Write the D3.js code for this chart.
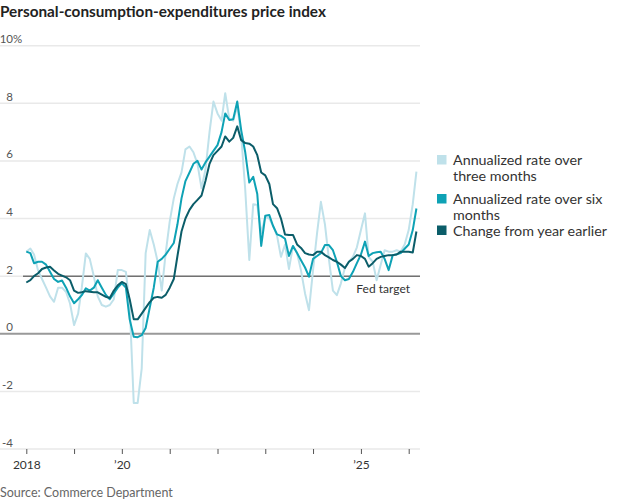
<!DOCTYPE html>
<html>
<head>
<meta charset="utf-8">
<script src="https://cdn.jsdelivr.net/npm/d3@7"></script>
<style>
  body { margin: 0; background: #fff; }
</style>
</head>
<body>
<div id="chart"></div>
<script>
const width = 620, height = 500;

// monthly, Jan 2018 .. Mar 2026
const months = d3.timeMonth.range(new Date(2018, 0, 1), new Date(2026, 3, 1));

const threeMonth = [
  2.85, 2.96, 2.75, 2.2, 1.9, 1.6, 1.3, 1.11, 1.6, 1.6, 1.45, 1.05,
  0.3, 0.7, 1.6, 2.79, 2.6, 2.0, 1.3, 1.0, 0.94, 1.0, 1.2, 2.21,
  2.21, 2.15, 1.0, -2.4, -2.4, -1.2, 2.8, 3.6, 3.1, 2.5, 1.5, 2.8,
  3.9, 4.7, 5.2, 5.6, 6.4, 6.5, 6.3, 5.9, 5.05, 5.7, 7.0, 8.06,
  7.65, 7.4, 8.35, 7.45, 7.4, 7.9, 6.9, 5.0, 2.56, 4.5, 4.47, 3.5,
  4.05, 4.0, 3.75, 3.4, 2.67, 3.1, 2.25, 3.05, 2.8, 2.2, 1.4, 0.82,
  2.21, 3.5, 4.58, 3.8, 2.6, 1.5, 1.34, 1.75, 2.3, 2.5, 2.67, 3.0,
  3.6, 4.18, 2.67, 2.5, 1.86, 2.4, 2.9, 2.85, 2.85, 2.9, 2.85, 3.1,
  3.6, 4.5, 5.63
];

const sixMonth = [
  2.85, 2.8, 2.45, 2.5, 2.5, 2.4, 2.15, 1.9, 1.8, 1.85, 1.6, 1.3,
  1.06, 1.2, 1.34, 1.58, 1.5, 1.6, 1.86, 1.6, 1.35, 1.2, 1.4, 1.6,
  1.75, 1.6, 0.5, -0.1, -0.12, -0.05, 0.2, 0.9, 1.6, 2.5, 2.6, 2.75,
  2.95, 3.15, 3.8, 4.7, 5.3, 5.6, 5.9, 6.0, 5.7, 5.95, 6.15, 6.35,
  6.55, 7.0, 7.65, 7.42, 7.45, 8.06, 7.07, 6.3, 5.25, 5.45, 4.85, 3.05,
  4.1, 4.12, 3.75, 3.45, 3.4, 3.3, 2.7, 3.05, 2.8, 2.55, 2.3, 1.98,
  2.6, 2.7, 2.8, 3.08, 3.08, 2.9, 2.5, 2.0, 1.86, 1.9, 2.15, 2.45,
  2.75, 3.2, 2.7, 2.8, 2.83, 2.85, 2.6, 2.21, 2.73, 2.76, 2.8, 2.95,
  3.1, 3.6, 4.35
];

const yearEarlier = [
  1.78, 1.86, 2.0, 2.1, 2.25, 2.3, 2.33, 2.2, 2.08, 2.02, 1.96, 1.86,
  1.5, 1.42, 1.44, 1.48, 1.46, 1.44, 1.44, 1.36, 1.28, 1.24, 1.5, 1.68,
  1.8, 1.72, 1.2, 0.5, 0.5, 0.7, 0.9, 1.1, 1.25, 1.28, 1.25, 1.35,
  1.6, 1.9, 2.7, 3.55, 4.0, 4.3, 4.5, 4.65, 4.8, 5.3, 5.9, 6.2,
  6.35, 6.5, 6.85, 6.67, 6.8, 7.2, 6.72, 6.62, 6.6, 6.5, 6.2, 5.6,
  5.5, 5.2, 4.5, 4.36, 4.0, 3.45, 3.43, 3.43, 3.1, 2.98, 2.8, 2.75,
  2.73, 2.85, 2.85, 2.73, 2.65, 2.56, 2.5, 2.4, 2.28, 2.5, 2.6, 2.73,
  2.7, 2.6, 2.33, 2.45, 2.6, 2.67, 2.7, 2.73, 2.73, 2.75, 2.85, 2.85,
  2.85, 2.82, 3.55
];

const yTicks = [-4, -2, 0, 2, 4, 6, 8, 10];
const xTickYears = [2018, 2019, 2020, 2021, 2022, 2023, 2024, 2025, 2026];
const xTickLabels = { 2018: "2018", 2020: "\u201920", 2025: "\u201925" };
const fedTarget = 2;

const seriesNames = [
  ["Annualized rate over", "three months"],
  ["Annualized rate over six", "months"],
  ["Change from year earlier"]
];
const colors = ["#bfe1ea", "#0ea2b5", "#0b5d69"];

const font = "Lato, 'Noto Sans', sans-serif";

const svg = d3.select("#chart")
  .append("svg")
  .attr("width", width)
  .attr("height", height)
  .style("font-family", font);

const x = d3.scaleTime()
  .domain([new Date(2018, 0, 1), new Date(2026, 0, 1)])
  .range([26.3, 408.7]);

const y = d3.scaleLinear()
  .domain([-4, 10])
  .range([449, 45.7]);

const plotRight = 420;

// title
svg.append("text")
  .attr("x", 0)
  .attr("y", 17)
  .style("font-size", "15.3px")
  .style("font-weight", "bold")
  .attr("fill", "#222")
  .text("Personal-consumption-expenditures price index");

// gridlines
svg.append("g")
  .selectAll("line")
  .data(yTicks.filter(d => d !== 0))
  .enter()
  .append("line")
  .attr("x1", 0)
  .attr("x2", plotRight)
  .attr("y1", d => y(d))
  .attr("y2", d => y(d))
  .attr("stroke", "#e9e9e9")
  .attr("stroke-width", 1.5);

// y labels
svg.append("g")
  .selectAll("text")
  .data(yTicks)
  .enter()
  .append("text")
  .attr("x", 13)
  .attr("y", d => y(d) - 2.5)
  .attr("text-anchor", "end")
  .style("font-size", "11.5px")
  .attr("fill", "#555")
  .text(d => d);

svg.append("text")
  .attr("x", 13)
  .attr("y", y(10) - 2.5)
  .style("font-size", "11.5px")
  .attr("fill", "#555")
  .text("%");

// zero line
svg.append("line")
  .attr("x1", 0)
  .attr("x2", plotRight)
  .attr("y1", y(0))
  .attr("y2", y(0))
  .attr("stroke", "#999")
  .attr("stroke-width", 2);

// fed target
svg.append("line")
  .attr("x1", 23)
  .attr("x2", plotRight)
  .attr("y1", y(fedTarget))
  .attr("y2", y(fedTarget))
  .attr("stroke", "#333")
  .attr("stroke-width", 1);

svg.append("text")
  .attr("x", 410)
  .attr("y", y(fedTarget) + 17)
  .attr("text-anchor", "end")
  .style("font-size", "12px")
  .attr("fill", "#333")
  .text("Fed target");

// x axis
const xAxis = svg.append("g")
  .attr("transform", `translate(0,${y(-4)})`)
  .call(d3.axisBottom(x)
    .tickValues(xTickYears.map(yr => new Date(yr, 0, 1)))
    .tickSize(5)
    .tickFormat(d => xTickLabels[d.getFullYear()] || ""));

xAxis.select(".domain").remove();
xAxis.selectAll(".tick line").attr("stroke", "#555");
xAxis.selectAll(".tick text")
  .attr("dy", 0)
  .attr("y", 20)
  .style("font-family", font)
  .style("font-size", "12px")
  .attr("fill", "#333");

// lines
const line = d3.line()
  .x((d, i) => x(months[i]))
  .y(d => y(d));

[threeMonth, sixMonth, yearEarlier].forEach((values, k) => {
  svg.append("path")
    .datum(values)
    .attr("fill", "none")
    .attr("stroke", colors[k])
    .attr("stroke-width", 2)
    .attr("stroke-linejoin", "round")
    .attr("d", line);
});

// legend
const legendRows = [155, 194, 225.5];
const legend = svg.append("g");
seriesNames.forEach((lines, i) => {
  const row = legend.append("g")
    .attr("transform", `translate(437, ${legendRows[i]})`);
  row.append("rect")
    .attr("width", 9.5)
    .attr("height", 9.5)
    .attr("fill", colors[i]);
  lines.forEach((t, j) => {
    row.append("text")
      .attr("x", 16)
      .attr("y", 10 + j * 16)
      .style("font-size", "14.3px")
      .attr("fill", "#333")
      .text(t);
  });
});

// source
svg.append("text")
  .attr("x", 0)
  .attr("y", 497)
  .style("font-size", "12.5px")
  .attr("fill", "#666")
  .text("Source: Commerce Department");
</script>
</body>
</html>
